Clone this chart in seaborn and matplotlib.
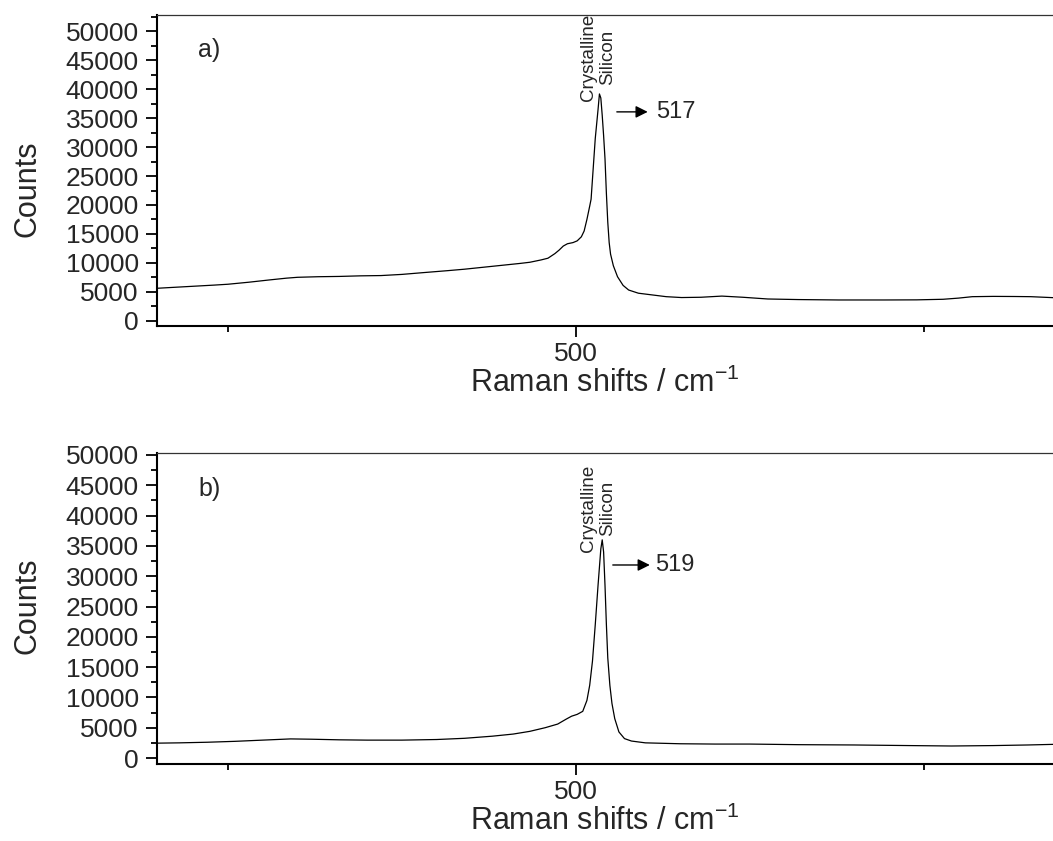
import matplotlib
matplotlib.use("Agg")
import matplotlib.pyplot as plt
from matplotlib.ticker import MultipleLocator
import seaborn as sns
import pandas as pd

# ---- data ----
wn_a = [199, 210, 225, 240, 250, 265, 280, 292, 300, 315, 330, 345, 360, 375, 390,
        408, 420, 438, 450, 460, 467, 475, 480, 485, 488, 491, 494, 498, 501, 504,
        506, 508, 510, 511, 513, 514, 516, 517, 518, 519, 520, 521, 522, 523, 524,
        525, 527, 530, 534, 538, 545, 555, 565, 576, 590, 605, 620, 638, 660, 689,
        722, 745, 764, 775, 785, 800, 815, 827, 843]
counts_a = [5600, 5750, 5950, 6150, 6300, 6650, 7050, 7350, 7500, 7600, 7650, 7750, 7800, 8000, 8300,
            8650, 8900, 9350, 9650, 9900, 10100, 10500, 10800, 11600, 12200, 12900, 13300, 13500, 13800, 14500,
            15500, 17500, 19800, 21000, 28000, 31500, 36500, 39200, 38500, 35500, 32000, 28000, 22000, 17000, 13500,
            11500, 9500, 7600, 6100, 5300, 4750, 4450, 4150, 4000, 4050, 4250, 4050, 3750, 3650, 3580,
            3580, 3600, 3700, 3900, 4150, 4200, 4180, 4150, 3980]

wn_b = [199, 215, 235, 255, 275, 295, 310, 330, 350, 375, 400, 420, 440, 455, 467,
        478, 487, 493, 497, 501, 505, 508, 510, 512, 514, 516, 518, 519, 520, 521,
        522, 523, 524.5, 526, 528, 531, 535, 540, 550, 575, 600, 625, 660, 700, 740,
        770, 800, 825, 843]
counts_b = [2450, 2500, 2600, 2750, 2950, 3150, 3100, 3000, 2950, 2950, 3050, 3250, 3600, 3950, 4400,
            5000, 5600, 6400, 6900, 7200, 7700, 9500, 12000, 16000, 22000, 28500, 34500, 36000, 34000, 28500,
            22000, 16500, 12000, 9000, 6500, 4300, 3200, 2800, 2500, 2350, 2300, 2300, 2200, 2150, 2050,
            1980, 2050, 2150, 2250]

panel_labels = ["a)", "b)"]
peak_labels = ["517", "519"]
peak_text = "Crystalline\nSilicon"
xlabel = r"Raman shifts / cm$^{\mathregular{-1}}$"
ylabel = "Counts"

# ---- style ----
sns.set_style("ticks")
plt.rcParams["font.family"] = ["Liberation Sans", "DejaVu Sans"]
plt.rcParams["mathtext.fontset"] = "custom"
plt.rcParams["mathtext.rm"] = "Liberation Sans"

fig = plt.figure(figsize=(10.53, 8.41), dpi=100)
W, H = 1053, 841

def axes_rect(left_px, top_px, right_px, bottom_px):
    return [left_px / W, 1 - bottom_px / H, (right_px - left_px) / W, (bottom_px - top_px) / H]

ax_a = fig.add_axes(axes_rect(157, 14.7, 1053, 326))
ax_b = fig.add_axes(axes_rect(157, 453, 1053, 764))

df_a = pd.DataFrame({"wn": wn_a, "counts": counts_a})
df_b = pd.DataFrame({"wn": wn_b, "counts": counts_b})

panels = [
    (ax_a, df_a, (-920, 52900), panel_labels[0], peak_labels[0], (515.8, 45450), (529.5, 551.7, 36100), 557.5, 0.44),
    (ax_b, df_b, (-990, 50330), panel_labels[1], peak_labels[1], (515.8, 41150), (526.6, 553.2, 31850), 556.9, 0.51),
]

for ax, df, ylim, plabel, pklabel, txtpos, arrow, numx, ylab_y in panels:
    sns.lineplot(data=df, x="wn", y="counts", ax=ax, color="black", linewidth=0.9)
    ax.set_xlim(199, 843)
    ax.set_ylim(*ylim)
    ax.xaxis.set_major_locator(MultipleLocator(500))
    ax.xaxis.set_minor_locator(MultipleLocator(250))
    ax.yaxis.set_major_locator(MultipleLocator(5000))
    ax.yaxis.set_minor_locator(MultipleLocator(2500))
    ax.tick_params(which="major", direction="out", length=8, width=1.3, labelsize=19,
                   pad=5, color="black")
    ax.tick_params(axis="x", which="major", pad=3.5)
    ax.tick_params(which="minor", direction="out", length=4.5, width=1.3, color="black")
    for s in ["left", "bottom"]:
        ax.spines[s].set_linewidth(1.5)
        ax.spines[s].set_color("black")
    ax.spines["top"].set_visible(True)
    ax.spines["top"].set_linewidth(0.9)
    ax.spines["top"].set_color("#333333")
    ax.spines["right"].set_visible(False)
    ax.set_xlabel(xlabel, fontsize=22, labelpad=1)
    ax.set_ylabel(ylabel, fontsize=22)
    ax.yaxis.set_label_coords(-0.128, ylab_y)
    ax.text(0.046, 0.885, plabel, transform=ax.transAxes, fontsize=18, ha="left", va="center")
    ax.text(txtpos[0], txtpos[1], peak_text, rotation=90, fontsize=13.5, ha="center",
            va="center", multialignment="center", linespacing=1.15)
    ax.annotate("", xy=(arrow[1], arrow[2]), xytext=(arrow[0], arrow[2]),
                arrowprops=dict(arrowstyle="-|>", color="black", lw=1.0,
                                mutation_scale=18, shrinkA=0, shrinkB=0))
    ax.text(numx, arrow[2], pklabel, fontsize=17, ha="left", va="center")

fig.savefig("out.png", dpi=100)
